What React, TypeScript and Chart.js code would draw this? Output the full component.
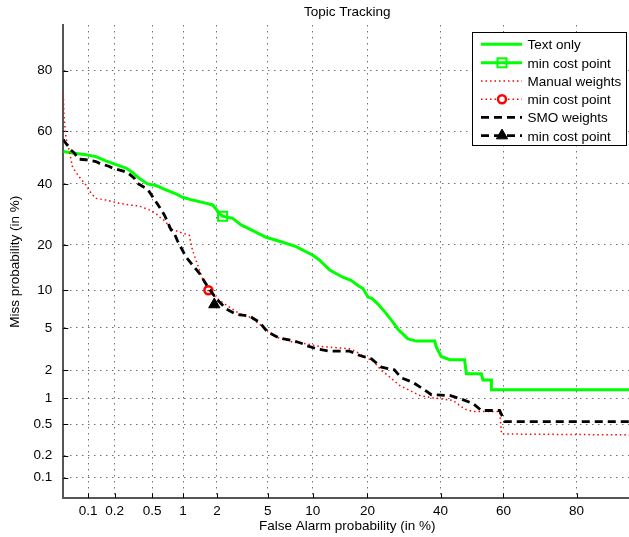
import React, { useEffect, useRef } from 'react';
import { Chart, registerables, LinearScale } from 'chart.js';

Chart.register(...registerables);

// ---- axis definition (percent, probit / normal-deviate scale) ----
const AXIS_MIN = 0.05;
const AXIS_MAX = 90;
const X_TICKS = [0.1, 0.2, 0.5, 1, 2, 5, 10, 20, 40, 60, 80];
const Y_TICKS = [0.1, 0.2, 0.5, 1, 2, 5, 10, 20, 40, 60, 80];

// ---- series: Text only (green) ----
const textOnlyFA = [0.05, 0.065, 0.094, 0.123, 0.16, 0.198, 0.267, 0.314, 0.369, 0.45, 0.547, 0.687, 0.858, 0.99, 1.22, 1.5, 1.84, 2.1, 2.22, 2.7, 3.15, 3.65, 4.87, 6.38, 7.84, 10.0, 11.0, 12.6, 14.9, 16.5, 18.0, 19.0, 20.1, 21.0, 22.4, 24.5, 26.2, 27.5, 30.3, 32.7, 38.2, 38.7, 40.2, 42.9, 47.6, 48.2, 53.0, 53.5, 56.2, 56.2, 90];
const textOnlyMiss = [52.4, 51.8, 51.1, 50.4, 48.8, 47.6, 46.0, 44.3, 42.1, 40.0, 39.4, 37.8, 36.3, 35.1, 34.1, 33.3, 32.4, 29.5, 28.6, 27.9, 25.8, 24.6, 22.1, 20.7, 19.5, 17.3, 16.1, 13.9, 12.4, 11.8, 10.8, 10.3, 8.9, 8.7, 7.9, 6.6, 5.6, 4.9, 4.0, 3.82, 3.82, 3.36, 2.74, 2.55, 2.55, 1.84, 1.84, 1.59, 1.59, 1.25, 1.25];
const textOnlyMinFA = [2.23];
const textOnlyMinMiss = [28.6];

// ---- series: Manual weights (red dotted) ----
const manualFA = [0.05, 0.051, 0.054, 0.059, 0.065, 0.078, 0.094, 0.108, 0.123, 0.16, 0.225, 0.289, 0.369, 0.468, 0.547, 0.59, 0.687, 0.74, 0.827, 0.99, 1.14, 1.22, 1.36, 1.5, 1.67, 2.1, 2.54, 3.05, 3.65, 4.35, 5.15, 5.74, 7.45, 9.09, 11.0, 16.2, 17.6, 19.35, 21.2, 23.3, 24.9, 28.0, 29.8, 33.7, 36.6, 43.9, 47.6, 50.3, 58.8, 59.4, 90];
const manualMiss = [72.9, 65.5, 57.5, 53.0, 46.3, 42.7, 39.6, 36.6, 34.7, 34.1, 33.0, 32.4, 32.0, 30.7, 29.5, 28.4, 26.8, 24.7, 24.2, 23.3, 22.7, 18.6, 15.0, 12.2, 10.0, 8.4, 7.45, 6.6, 6.2, 5.4, 4.6, 4.15, 3.74, 3.61, 3.41, 3.25, 3.04, 2.70, 2.50, 1.99, 1.77, 1.39, 1.28, 1.08, 1.03, 0.95, 0.76, 0.71, 0.71, 0.38, 0.37];
const manualMinFA = [1.69];
const manualMinMiss = [10.0];

// ---- series: SMO weights (black dashed) ----
const smoFA = [0.05, 0.051, 0.062, 0.068, 0.078, 0.094, 0.123, 0.134, 0.175, 0.19, 0.245, 0.277, 0.327, 0.354, 0.433, 0.468, 0.547, 0.59, 0.662, 0.687, 0.769, 0.827, 0.889, 1.065, 1.22, 1.41, 1.67, 1.97, 2.39, 2.88, 3.65, 4.35, 5.0, 6.06, 7.45, 8.66, 9.09, 10.5, 12.6, 16.2, 18.3, 20.9, 23.3, 26.6, 28.5, 31.7, 34.6, 37.2, 42.9, 46.0, 50.3, 53.0, 58.8, 60.4, 90];
const smoMiss = [57.0, 56.5, 53.0, 51.8, 49.4, 49.2, 48.5, 47.9, 46.6, 46.0, 44.9, 44.3, 42.1, 40.2, 38.4, 37.1, 33.5, 31.8, 29.0, 27.9, 24.3, 23.2, 21.0, 16.9, 15.0, 13.2, 10.6, 8.7, 7.2, 6.5, 6.3, 5.6, 4.6, 4.07, 3.87, 3.61, 3.48, 3.25, 3.08, 3.08, 2.80, 2.60, 2.15, 2.02, 1.67, 1.50, 1.28, 1.10, 1.08, 1.0, 0.88, 0.73, 0.73, 0.54, 0.54];
const smoMinFA = [1.9];
const smoMinMiss = [7.8];

const LEGEND_LABELS = ['Text only', 'min cost point', 'Manual weights', 'min cost point', 'SMO weights', 'min cost point'];
const TITLE = 'Topic Tracking';
const X_TITLE = 'False Alarm probability (in %)';
const Y_TITLE = 'Miss probability (in %)';

const GREEN = '#00ff00';
const RED = '#ff0000';
const BLACK = '#000000';
const FONT_FAMILY = '"Liberation Sans", Arial, Helvetica, sans-serif';
const FONT_SIZE = 13.5;

// ---- normal distribution helpers ----
function normInv(pIn: number): number {
  const p = Math.min(Math.max(pIn, 1e-12), 1 - 1e-12);
  const a = [-3.969683028665376e1, 2.209460984245205e2, -2.759285104469687e2, 1.38357751867269e2, -3.066479806614716e1, 2.506628277459239];
  const b = [-5.447609879822406e1, 1.615858368580409e2, -1.556989798598866e2, 6.680131188771972e1, -1.328068155288572e1];
  const c = [-7.784894002430293e-3, -3.223964580411365e-1, -2.400758277161838, -2.549671010466010, 4.374664141464968, 2.938163982698783];
  const d = [7.784695709041462e-3, 3.224671290700398e-1, 2.445134137142996, 3.754408661907416];
  const pl = 0.02425;
  if (p < pl) {
    const q = Math.sqrt(-2 * Math.log(p));
    return (((((c[0] * q + c[1]) * q + c[2]) * q + c[3]) * q + c[4]) * q + c[5]) / ((((d[0] * q + d[1]) * q + d[2]) * q + d[3]) * q + 1);
  }
  if (p <= 1 - pl) {
    const q = p - 0.5;
    const r = q * q;
    return ((((((a[0] * r + a[1]) * r + a[2]) * r + a[3]) * r + a[4]) * r + a[5]) * q) / (((((b[0] * r + b[1]) * r + b[2]) * r + b[3]) * r + b[4]) * r + 1);
  }
  const q = Math.sqrt(-2 * Math.log(1 - p));
  return -(((((c[0] * q + c[1]) * q + c[2]) * q + c[3]) * q + c[4]) * q + c[5]) / ((((d[0] * q + d[1]) * q + d[2]) * q + d[3]) * q + 1);
}

function normCdf(z: number): number {
  const t = 1 / (1 + 0.3275911 * Math.abs(z) / Math.SQRT2);
  const y = 1 - (((((1.061405429 * t - 1.453152027) * t) + 1.421413741) * t - 0.284496736) * t + 0.254829592) * t * Math.exp(-(z * z) / 2);
  return z >= 0 ? (1 + y) / 2 : (1 - y) / 2;
}

// ---- custom probit scale ----
class ProbitScale extends LinearScale {
  static id = 'probit';
  static defaults = {};
  determineDataLimits() {
    (this as any).min = AXIS_MIN;
    (this as any).max = AXIS_MAX;
  }
  buildTicks() {
    const vals = (this as any).axis === 'x' ? X_TICKS : Y_TICKS;
    return vals.map((v) => ({ value: v }));
  }
  configure() {
    super.configure();
    (this as any)._zmin = normInv((this as any).min / 100);
    (this as any)._zmax = normInv((this as any).max / 100);
  }
  getPixelForValue(value: number) {
    const s = this as any;
    const z = normInv(value / 100);
    return this.getPixelForDecimal((z - s._zmin) / (s._zmax - s._zmin));
  }
  getValueForPixel(pixel: number) {
    const s = this as any;
    const dec = this.getDecimalForPixel(pixel);
    return 100 * normCdf(s._zmin + dec * (s._zmax - s._zmin));
  }
}
Chart.register(ProbitScale as any);

function pts(xs: number[], ys: number[]) {
  return xs.map((x, i) => ({ x, y: ys[i] }));
}

// ---- plugins ----
const tickMarksPlugin = {
  id: 'inwardTicks',
  beforeDatasetsDraw(chart: any) {
    const { ctx, chartArea, scales } = chart;
    ctx.save();
    ctx.strokeStyle = '#000';
    ctx.lineWidth = 1;
    ctx.beginPath();
    X_TICKS.forEach((v) => {
      const px = Math.round(scales.x.getPixelForValue(v)) + 0.5;
      ctx.moveTo(px, chartArea.bottom);
      ctx.lineTo(px, chartArea.bottom - 5);
    });
    Y_TICKS.forEach((v) => {
      const py = Math.round(scales.y.getPixelForValue(v)) + 0.5;
      ctx.moveTo(chartArea.left, py);
      ctx.lineTo(chartArea.left + 5, py);
    });
    ctx.stroke();
    ctx.restore();
  },
};

const titlePlugin = {
  id: 'plotTitle',
  afterDraw(chart: any) {
    const { ctx, chartArea } = chart;
    ctx.save();
    ctx.fillStyle = '#000';
    ctx.font = `${FONT_SIZE}px ${FONT_FAMILY}`;
    ctx.textAlign = 'center';
    ctx.textBaseline = 'alphabetic';
    ctx.fillText(TITLE, (chartArea.left + chartArea.right) / 2, 15.5);
    ctx.restore();
  },
};

function drawMarker(ctx: CanvasRenderingContext2D, kind: number, x: number, y: number) {
  ctx.save();
  ctx.setLineDash([]);
  if (kind === 0) {
    ctx.strokeStyle = GREEN;
    ctx.lineWidth = 2;
    ctx.strokeRect(x - 4.5, y - 4.5, 9, 9);
  } else if (kind === 1) {
    ctx.strokeStyle = RED;
    ctx.lineWidth = 2.5;
    ctx.fillStyle = '#fff';
    ctx.beginPath();
    ctx.arc(x, y, 4, 0, Math.PI * 2);
    ctx.fill();
    ctx.stroke();
  } else {
    ctx.fillStyle = BLACK;
    ctx.strokeStyle = BLACK;
    ctx.lineWidth = 1;
    const r = 6.5;
    ctx.beginPath();
    ctx.moveTo(x, y - r);
    ctx.lineTo(x + r * 0.866, y + r * 0.5);
    ctx.lineTo(x - r * 0.866, y + r * 0.5);
    ctx.closePath();
    ctx.fill();
    ctx.stroke();
  }
  ctx.restore();
}

const legendPlugin = {
  id: 'detLegend',
  afterDraw(chart: any) {
    const ctx: CanvasRenderingContext2D = chart.ctx;
    const bx = 472.5, by = 32.5, bw = 154, bh = 113;
    ctx.save();
    ctx.fillStyle = '#fff';
    ctx.fillRect(bx, by, bw, bh);
    ctx.strokeStyle = '#000';
    ctx.lineWidth = 1;
    ctx.strokeRect(bx, by, bw, bh);
    const rowY = [44.3, 62.8, 81, 99.2, 117.4, 135.6];
    const styles = [
      { color: GREEN, width: 3, dash: [] as number[] },
      { color: RED, width: 1.5, dash: [1.5, 3] },
      { color: BLACK, width: 2.8, dash: [8, 5] },
    ];
    LEGEND_LABELS.forEach((label, i) => {
      const st = styles[Math.floor(i / 2)];
      const y = rowY[i];
      ctx.save();
      ctx.strokeStyle = st.color;
      ctx.lineWidth = st.width;
      ctx.setLineDash(st.dash);
      ctx.beginPath();
      ctx.moveTo(481, y);
      ctx.lineTo(522, y);
      ctx.stroke();
      ctx.restore();
      if (i % 2 === 1) drawMarker(ctx, Math.floor(i / 2), 502, y);
      ctx.fillStyle = '#000';
      ctx.font = `${FONT_SIZE}px ${FONT_FAMILY}`;
      ctx.textAlign = 'left';
      ctx.textBaseline = 'alphabetic';
      ctx.fillText(label, 527.5, y + 5);
    });
    ctx.restore();
  },
};

export default function App() {
  const ref = useRef<HTMLCanvasElement>(null);
  useEffect(() => {
    if (!ref.current) return;
    const font = { family: FONT_FAMILY, size: FONT_SIZE };
    const gridCommon = { color: '#707070', lineWidth: 1, drawTicks: false };
    const borderCommon = { display: true, color: '#555555', width: 2, dash: [1.5, 4.5] };
    const chart = new Chart(ref.current, {
      type: 'line',
      data: {
        datasets: [
          { label: LEGEND_LABELS[0], data: pts(textOnlyFA, textOnlyMiss), borderColor: GREEN, borderWidth: 3, pointRadius: 0, fill: false, tension: 0, order: 5 },
          { label: LEGEND_LABELS[1], data: pts(textOnlyMinFA, textOnlyMinMiss), showLine: false, pointStyle: 'rect', pointRadius: 6.4, pointBorderWidth: 2, pointBorderColor: GREEN, pointBackgroundColor: 'rgba(0,0,0,0)', order: 4 },
          { label: LEGEND_LABELS[2], data: pts(manualFA, manualMiss), borderColor: RED, borderWidth: 1.5, borderDash: [1.5, 3], pointRadius: 0, fill: false, tension: 0, order: 3 },
          { label: LEGEND_LABELS[3], data: pts(manualMinFA, manualMinMiss), showLine: false, pointStyle: 'circle', pointRadius: 4, pointBorderWidth: 2.5, pointBorderColor: RED, pointBackgroundColor: 'rgba(0,0,0,0)', order: 2 },
          { label: LEGEND_LABELS[4], data: pts(smoFA, smoMiss), borderColor: BLACK, borderWidth: 2.8, borderDash: [8, 5], pointRadius: 0, fill: false, tension: 0, order: 1 },
          { label: LEGEND_LABELS[5], data: pts(smoMinFA, smoMinMiss), showLine: false, pointStyle: 'triangle', pointRadius: 6.5, pointBorderWidth: 1, pointBorderColor: BLACK, pointBackgroundColor: BLACK, order: 0 },
        ],
      },
      options: {
        animation: false,
        responsive: false,
        devicePixelRatio: 1,
        events: [],
        layout: { padding: { top: 25, left: 0, right: 8.8, bottom: 0 } },
        plugins: { legend: { display: false }, tooltip: { enabled: false }, title: { display: false } },
        scales: {
          x: {
            type: 'probit' as any,
            position: 'bottom',
            min: AXIS_MIN,
            max: AXIS_MAX,
            grid: gridCommon,
            border: borderCommon,
            ticks: { font, color: '#000', padding: 4.5, autoSkip: false, maxRotation: 0, callback: (v: any) => String(v) },
            title: { display: true, text: X_TITLE, font, color: '#000', padding: { top: 0, bottom: 2.9 } },
            afterFit: (s: any) => { s.height = 38.7; },
          },
          y: {
            type: 'probit' as any,
            position: 'left',
            min: AXIS_MIN,
            max: AXIS_MAX,
            grid: gridCommon,
            border: borderCommon,
            ticks: { font, color: '#000', padding: 11, autoSkip: false, callback: (v: any) => String(v) },
            title: { display: true, text: Y_TITLE, font, color: '#000', padding: { top: 6.9, bottom: 0 } },
            afterFit: (s: any) => { s.width = 63.3; },
          },
        },
      } as any,
      plugins: [tickMarksPlugin, titlePlugin, legendPlugin],
    });
    return () => chart.destroy();
  }, []);
  return (
    <div style={{ position: 'fixed', left: 0, top: 0, width: 629, height: 537, overflow: 'hidden', background: '#fff' }}>
      <canvas ref={ref} width={640} height={537} style={{ display: 'block', width: 640, height: 537 }} />
    </div>
  );
}
